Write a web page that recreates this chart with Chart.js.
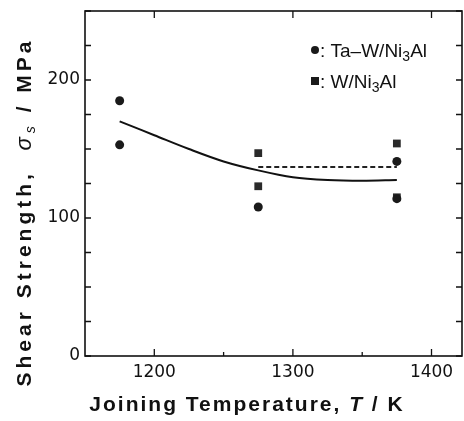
<!DOCTYPE html>
<html>
<head>
<meta charset="utf-8">
<script src="https://cdn.jsdelivr.net/npm/chart.js@4/dist/chart.umd.min.js"></script>
<style>
  body { margin: 0; background: #fff; }
  canvas { display: block; }
</style>
</head>
<body>
<canvas id="shearChart" width="464" height="421"></canvas>
<script>
// data
const taWTemps = [1175, 1175, 1275, 1375, 1375];
const taWStrength = [185, 153, 108, 141, 114];

const wTemps = [1275, 1275, 1375, 1375];
const wStrength = [147, 123, 154, 115];

const fitTemps = [1175, 1200, 1225, 1250, 1275, 1300, 1325, 1350, 1375];
const fitStrength = [170, 160, 150, 141, 134.5, 129.5, 127.5, 127, 127.5];

const dashTemps = [1275, 1375];
const dashStrength = [137, 137];

const xLabels = [1200, 1300, 1400];
const yLabels = [0, 100, 200];

function toPoints(xs, ys) {
    return xs.map((x, i) => ({ x: x, y: ys[i] }));
}

const FONT = '"Liberation Sans", Arial, sans-serif';
const TICK_FONT = '"DejaVu Sans", sans-serif';

// frame, inward ticks, titles and legend
const decorations = {
    id: 'decorations',
    afterDraw(chart) {
        const ctx = chart.ctx;
        const area = chart.chartArea;
        const xs = chart.scales.x;
        const ys = chart.scales.y;

        ctx.save();
        ctx.strokeStyle = '#111';
        ctx.lineWidth = 1.6;
        ctx.strokeRect(area.left, area.top, area.right - area.left, area.bottom - area.top);

        ctx.lineWidth = 1.3;
        ctx.beginPath();
        for (let v = 0; v <= 250; v += 25) {
            const y = ys.getPixelForValue(v);
            ctx.moveTo(area.left, y);
            ctx.lineTo(area.left + 6, y);
            ctx.moveTo(area.right, y);
            ctx.lineTo(area.right - 6, y);
        }
        for (let v = 1200; v <= 1400; v += 50) {
            const x = xs.getPixelForValue(v);
            const len = v % 100 === 0 ? 7 : 4;
            ctx.moveTo(x, area.bottom);
            ctx.lineTo(x, area.bottom - len);
            if (v % 100 === 0) {
                ctx.moveTo(x, area.top);
                ctx.lineTo(x, area.top + 7);
            }
        }
        ctx.stroke();

        ctx.fillStyle = '#111';
        ctx.textBaseline = 'alphabetic';

        // x title
        ctx.letterSpacing = '2px';
        const xParts = [
            { t: 'Joining Temperature, ', f: 'bold 21px ' + FONT },
            { t: 'T', f: 'italic bold 21px ' + FONT },
            { t: ' / K', f: 'bold 21px ' + FONT }
        ];
        let total = 0;
        xParts.forEach(p => { ctx.font = p.f; total += ctx.measureText(p.t).width; });
        let cx = 247 - total / 2;
        xParts.forEach(p => {
            ctx.font = p.f;
            ctx.fillText(p.t, cx, 411);
            cx += ctx.measureText(p.t).width;
        });

        // y title
        ctx.save();
        ctx.translate(31, 212);
        ctx.rotate(-Math.PI / 2);
        ctx.letterSpacing = '4px';
        const yParts = [
            { t: 'Shear Strength,  ', f: 'bold 21px ' + FONT, dy: 0 },
            { t: 'σ', f: 'italic 22px ' + FONT, dy: 0 },
            { t: 's', f: 'italic 14px ' + FONT, dy: 4 },
            { t: ' / MPa', f: 'bold 21px ' + FONT, dy: 0 }
        ];
        total = 0;
        yParts.forEach(p => { ctx.font = p.f; total += ctx.measureText(p.t).width; });
        let cy = -total / 2;
        yParts.forEach(p => {
            ctx.font = p.f;
            ctx.fillText(p.t, cy, p.dy);
            cy += ctx.measureText(p.t).width;
        });
        ctx.restore();

        // legend
        ctx.letterSpacing = '0px';
        const legend = [
            { style: 'circle', pre: ': Ta–W/Ni', post: 'Al', y: 50 },
            { style: 'rect', pre: ': W/Ni', post: 'Al', y: 81 }
        ];
        legend.forEach(item => {
            ctx.fillStyle = '#1a1a1a';
            if (item.style === 'circle') {
                ctx.beginPath();
                ctx.arc(315, item.y, 4, 0, Math.PI * 2);
                ctx.fill();
            } else {
                ctx.fillRect(311, item.y - 4, 8, 8);
            }
            ctx.fillStyle = '#111';
            let lx = 320;
            ctx.font = '19px ' + FONT;
            ctx.fillText(item.pre, lx, item.y + 7);
            lx += ctx.measureText(item.pre).width;
            ctx.font = '14px ' + FONT;
            ctx.fillText('3', lx, item.y + 11);
            lx += ctx.measureText('3').width;
            ctx.font = '19px ' + FONT;
            ctx.fillText(item.post, lx, item.y + 7);
        });
        ctx.restore();
    }
};

new Chart(document.getElementById('shearChart').getContext('2d'), {
    type: 'scatter',
    data: {
        datasets: [
            {
                label: 'fit',
                type: 'line',
                data: toPoints(fitTemps, fitStrength),
                borderColor: '#111',
                borderWidth: 2,
                pointRadius: 0,
                fill: false,
                cubicInterpolationMode: 'monotone'
            },
            {
                label: 'W mean',
                type: 'line',
                data: toPoints(dashTemps, dashStrength),
                borderColor: '#222',
                borderWidth: 2,
                borderDash: [5, 3],
                pointRadius: 0,
                fill: false
            },
            {
                label: 'Ta-W/Ni3Al',
                data: toPoints(taWTemps, taWStrength),
                pointStyle: 'circle',
                pointRadius: 4.5,
                backgroundColor: '#1a1a1a',
                borderColor: '#1a1a1a',
                borderWidth: 0
            },
            {
                label: 'W/Ni3Al',
                data: toPoints(wTemps, wStrength),
                pointStyle: 'rect',
                pointRadius: 5.5,
                backgroundColor: '#2a2a2a',
                borderColor: '#2a2a2a',
                borderWidth: 0
            }
        ]
    },
    options: {
        responsive: false,
        animation: false,
        layout: { autoPadding: false, padding: { top: 11, right: 2, left: 0, bottom: 0 } },
        plugins: {
            legend: { display: false },
            tooltip: { enabled: false }
        },
        scales: {
            x: {
                type: 'linear',
                min: 1150,
                max: 1422,
                grid: { display: false, drawTicks: false },
                border: { display: false },
                ticks: {
                    stepSize: 50,
                    includeBounds: false,
                    autoSkip: false,
                    maxRotation: 0,
                    padding: 6,
                    color: '#111',
                    font: { family: TICK_FONT, size: 17 },
                    callback: v => xLabels.includes(v) ? String(v) : ''
                },
                afterFit(scale) {
                    scale.height = 65;
                    scale.paddingLeft = 0;
                    scale.paddingRight = 0;
                }
            },
            y: {
                min: 0,
                max: 250,
                grid: { display: false, drawTicks: false },
                border: { display: false },
                ticks: {
                    stepSize: 25,
                    autoSkip: false,
                    padding: 5,
                    color: '#111',
                    font: { family: TICK_FONT, size: 17 },
                    callback: v => yLabels.includes(v) ? String(v) : ''
                },
                afterFit(scale) {
                    scale.width = 85;
                    scale.paddingTop = 0;
                    scale.paddingBottom = 0;
                }
            }
        }
    },
    plugins: [decorations]
});
</script>
</body>
</html>
